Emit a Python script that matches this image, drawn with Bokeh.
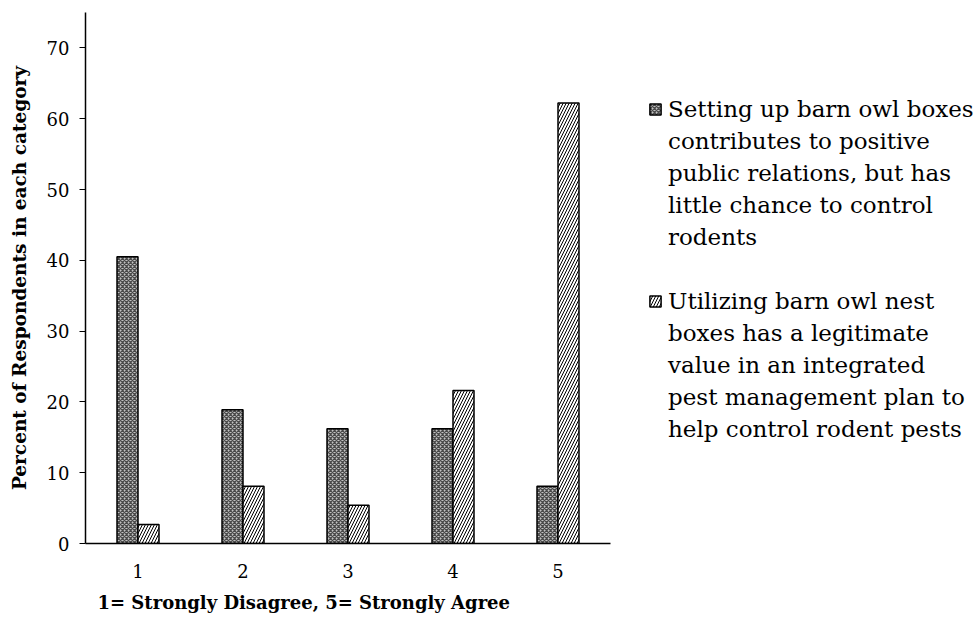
from bokeh.plotting import figure
from bokeh.models import ColumnDataSource, Legend, LegendItem, FixedTicker, Range1d, Title
from bokeh.transform import dodge
from bokeh.embed import file_html
from bokeh.resources import INLINE

# ---- data ----
categories = [1, 2, 3, 4, 5]
tick_labels = ["1", "2", "3", "4", "5"]
public_relations = [40.5, 18.9, 16.2, 16.2, 8.1]
legitimate_value = [2.7, 8.1, 5.4, 21.6, 62.2]
label_a_lines = ["Setting up barn owl boxes", "contributes to positive",
                 "public relations, but has", "little chance to control", "rodents"]
label_b_lines = ["Utilizing barn owl nest", "boxes has a legitimate",
                 "value in an integrated", "pest management plan to",
                 "help control rodent pests"]
y_ticks = [0, 10, 20, 30, 40, 50, 60, 70]
x_title = "1= Strongly Disagree, 5= Strongly Agree"
y_title = "Percent of Respondents in each category"

src = ColumnDataSource(dict(x=categories, a=public_relations, b=legitimate_value))

FONT = "DejaVu Serif"

p = figure(frame_width=525, frame_height=531, output_backend="svg", toolbar_location=None,
           x_range=Range1d(0.5, 5.5), y_range=Range1d(0, 75),
           min_border_left=85, min_border_top=12, min_border_right=355, min_border_bottom=4)
p.outline_line_color = None
p.xgrid.visible = False
p.ygrid.visible = False
p.background_fill_color = "white"
p.border_fill_color = "white"

r1 = p.vbar(x=dodge("x", -0.1, range=p.x_range), top="a", width=0.2, source=src,
            fill_color="#c2c2c2", line_color="black", line_width=1.5,
            hatch_pattern="diagonal_cross", hatch_scale=4, hatch_weight=1.3, hatch_color="#4a4a4a")
r2 = p.vbar(x=dodge("x", 0.1, range=p.x_range), top="b", width=0.2, source=src,
            fill_color="white", line_color="black", line_width=1.5,
            hatch_pattern="right_diagonal_line", hatch_scale=6, hatch_weight=1, hatch_color="black")
# invisible renderer used only for continuation lines of the wrapped legend labels
blank = p.vbar(x=[], top=[], width=0.2, fill_alpha=0, line_alpha=0)

# axes
p.xaxis.ticker = FixedTicker(ticks=categories)
p.xaxis.major_label_overrides = {c: t for c, t in zip(categories, tick_labels)}
p.xaxis.major_tick_out = 0
p.xaxis.major_tick_in = 0
p.xaxis.minor_tick_line_color = None
p.xaxis.axis_line_width = 1.5
p.xaxis.axis_line_color = "black"
p.xaxis.major_label_standoff = 20
p.xaxis.major_label_text_font = FONT
p.xaxis.major_label_text_font_size = "18px"
p.xaxis.major_label_text_color = "black"

p.yaxis.ticker = FixedTicker(ticks=y_ticks)
p.yaxis.major_tick_out = 6
p.yaxis.major_tick_in = 0
p.yaxis.minor_tick_line_color = None
p.yaxis.axis_line_width = 1.5
p.yaxis.axis_line_color = "black"
p.yaxis.major_label_standoff = 10
p.yaxis.major_label_text_font = FONT
p.yaxis.major_label_text_font_size = "18px"
p.yaxis.major_label_text_color = "black"
p.yaxis.axis_label = y_title
p.yaxis.axis_label_text_font = FONT
p.yaxis.axis_label_text_font_size = "18.5px"
p.yaxis.axis_label_text_font_style = "bold"
p.yaxis.axis_label_text_color = "black"
p.yaxis.axis_label_standoff = 14

xt = Title(text=x_title, align="left", offset=12, standoff=18,
           text_font=FONT, text_font_size="18px", text_font_style="bold", text_color="black")
p.add_layout(xt, "below")

items = []
for i, line in enumerate(label_a_lines):
    items.append(LegendItem(label=line, renderers=[r1 if i == 0 else blank]))
items.append(LegendItem(label=" ", renderers=[blank]))
for i, line in enumerate(label_b_lines):
    items.append(LegendItem(label=line, renderers=[r2 if i == 0 else blank]))

legend = Legend(items=items, location=(38, 101))
legend.label_text_font = FONT
legend.label_text_font_size = "23px"
legend.label_text_color = "black"
legend.glyph_width = 14
legend.glyph_height = 14
legend.label_standoff = 6
legend.label_height = 26
legend.padding = 0
legend.margin = 0
legend.spacing = 6
legend.border_line_color = None
legend.background_fill_alpha = 0
p.add_layout(legend, "right")

open("out.html", "w").write(file_html(p, INLINE))
